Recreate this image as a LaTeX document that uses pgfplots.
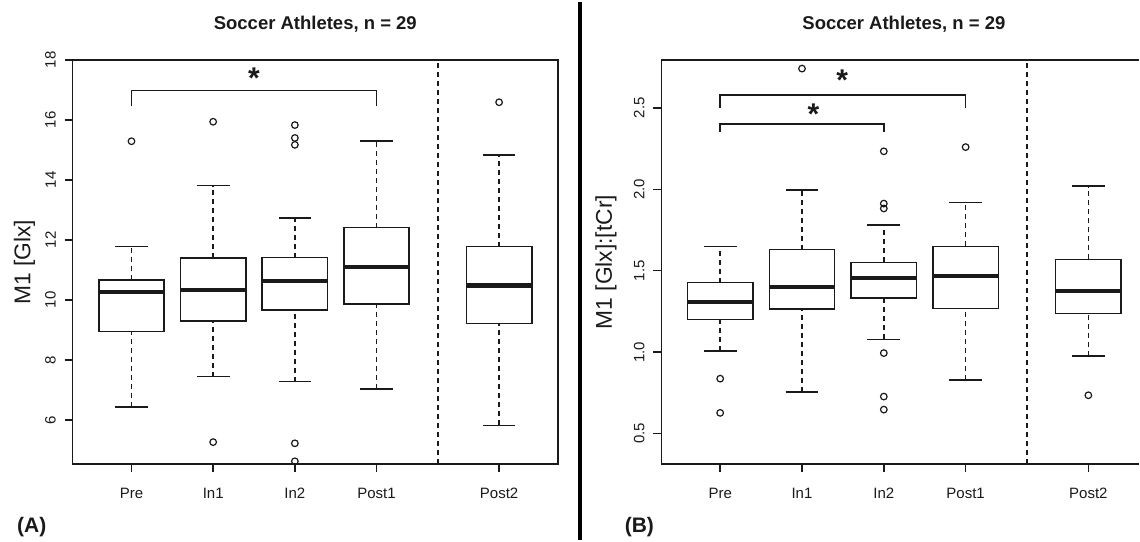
\documentclass[border=0pt]{standalone}
\usepackage{fontspec}
\setmainfont{Liberation Sans}
\usepackage{pgfplots}
\pgfplotsset{compat=1.18}
\usepgfplotslibrary{statistics}
\definecolor{ink}{HTML}{1A1A1A}
\newcommand{\fs}[1]{\fontsize{#1}{#1}\selectfont}

\tikzset{sigstar/.style={font=\bfseries\fs{30}, inner sep=0pt, yshift=-6pt, text=ink}}

\pgfplotsset{
  rpanel/.style={
    scale only axis, height=404.3pt,
    anchor=south west,
    xmin=0.28,
    xtick={1,2,3,4,5.5},
    xticklabels={Pre,In1,In2,Post1,Post2},
    tick align=outside, xtick pos=bottom, ytick pos=left,
    minor tick num=0,
    major tick length=8pt,
    axis line style={line width=1.5pt, ink},
    every tick/.style={line width=1.5pt, ink},
    /pgf/number format/assume math mode=true,
    xticklabel style={font=\fs{15}, inner sep=0pt, anchor=north, color=ink},
    xticklabel shift=15.7pt,
    yticklabel style={font=\fs{15}, rotate=90, anchor=south, inner sep=0pt, color=ink},
    yticklabel shift=8.6pt,
    clip=false,
    boxplot/draw direction=y,
    boxplot/box extend=0.8,
    boxplot/whisker extend=0.4,
    boxplot/every box/.style={line width=1.5pt},
    boxplot/every median/.style={line width=4.2pt},
    boxplot/every whisker/.style={line width=1.5pt},
    boxplot/draw/lower whisker/.code={%
      \draw[line width=1.5pt, dash pattern=on 5pt off 4pt]
        (boxplot box cs:\pgfplotsboxplotvalue{lower whisker},0.5)
        -- (boxplot box cs:\pgfplotsboxplotvalue{lower quartile},0.5);
      \draw[line width=1.5pt, solid]
        (boxplot whisker cs:\pgfplotsboxplotvalue{lower whisker},0)
        -- (boxplot whisker cs:\pgfplotsboxplotvalue{lower whisker},1);
    },
    boxplot/draw/upper whisker/.code={%
      \draw[line width=1.5pt, dash pattern=on 5pt off 4pt]
        (boxplot box cs:\pgfplotsboxplotvalue{upper quartile},0.5)
        -- (boxplot box cs:\pgfplotsboxplotvalue{upper whisker},0.5);
      \draw[line width=1.5pt, solid]
        (boxplot whisker cs:\pgfplotsboxplotvalue{upper whisker},0)
        -- (boxplot whisker cs:\pgfplotsboxplotvalue{upper whisker},1);
    },
  },
  bp/.style={ink, line width=1.5pt, solid, mark=o, mark size=3.3pt, mark options={solid, line width=1.2pt}},
  brk/.style={ink, line width=1.5pt, mark=none},
  sep/.style={ink, line width=1.5pt, mark=none, dash pattern=on 5pt off 4pt},
}

\begin{document}
\begin{tikzpicture}[x=1pt,y=1pt]
\path (0,0) rectangle (1140,538);

% ---------- Panel A ----------
\begin{axis}[rpanel, at={(72.7pt,75.7pt)}, width=485.6pt, xmax=6.22,
  ymin=4.53, ymax=18, ytick={6,8,...,18}]
\addplot[bp, boxplot prepared={draw position=1, lower whisker=6.43, lower quartile=8.94, median=10.26, upper quartile=10.66, upper whisker=11.78}]
  table[row sep=\\, y index=0] {v\\ 15.29\\};
\addplot[bp, boxplot prepared={draw position=2, lower whisker=7.44, lower quartile=9.29, median=10.34, upper quartile=11.39, upper whisker=13.81}]
  table[row sep=\\, y index=0] {v\\ 15.94\\ 5.26\\};
\addplot[bp, boxplot prepared={draw position=3, lower whisker=7.28, lower quartile=9.67, median=10.63, upper quartile=11.41, upper whisker=12.73}]
  table[row sep=\\, y index=0] {v\\ 15.83\\ 15.40\\ 15.17\\ 5.22\\ 4.62\\};
\addplot[bp, boxplot prepared={draw position=4, lower whisker=7.03, lower quartile=9.86, median=11.11, upper quartile=12.41, upper whisker=15.29}]
  coordinates {};
\addplot[bp, boxplot prepared={draw position=5.5, lower whisker=5.82, lower quartile=9.22, median=10.48, upper quartile=11.78, upper whisker=14.83}]
  table[row sep=\\, y index=0] {v\\ 16.59\\};
\addplot[brk] coordinates {(1,16.48) (1,16.99) (4,16.99) (4,16.48)};
\addplot[sep] coordinates {(4.75,4.53) (4.75,18)};
\node[sigstar] at (axis cs:2.5,17.59) {*};
\end{axis}

% ---------- Panel B (its right edge falls outside the image) ----------
\begin{axis}[rpanel, at={(661.7pt,75.7pt)}, width=478.3pt, xmax=6.122,
  axis x line*=box, axis y line*=left,
  ymin=0.313, ymax=2.794,
  ytick={0.5,1.0,1.5,2.0,2.5},
  yticklabel style={/pgf/number format/fixed, /pgf/number format/fixed zerofill, /pgf/number format/precision=1}]
\addplot[bp, boxplot prepared={draw position=1, lower whisker=1.008, lower quartile=1.200, median=1.308, upper quartile=1.427, upper whisker=1.649}]
  table[row sep=\\, y index=0] {v\\ 0.837\\ 0.627\\};
\addplot[bp, boxplot prepared={draw position=2, lower whisker=0.755, lower quartile=1.265, median=1.402, upper quartile=1.629, upper whisker=1.994}]
  table[row sep=\\, y index=0] {v\\ 2.741\\};
\addplot[bp, boxplot prepared={draw position=3, lower whisker=1.078, lower quartile=1.333, median=1.455, upper quartile=1.551, upper whisker=1.780}]
  table[row sep=\\, y index=0] {v\\ 2.233\\ 1.912\\ 1.882\\ 0.994\\ 0.727\\ 0.647\\};
\addplot[bp, boxplot prepared={draw position=4, lower whisker=0.829, lower quartile=1.267, median=1.467, upper quartile=1.649, upper whisker=1.918}]
  table[row sep=\\, y index=0] {v\\ 2.259\\};
\addplot[bp, boxplot prepared={draw position=5.5, lower whisker=0.976, lower quartile=1.237, median=1.376, upper quartile=1.569, upper whisker=2.020}]
  table[row sep=\\, y index=0] {v\\ 0.735\\};
\addplot[brk] coordinates {(1,2.50) (1,2.58) (4,2.58) (4,2.50)};
\addplot[brk] coordinates {(1,2.351) (1,2.402) (3,2.402) (3,2.351)};
\addplot[sep] coordinates {(4.75,0.313) (4.75,2.794)};
\node[sigstar] at (axis cs:2.49,2.708) {*};
\node[sigstar] at (axis cs:2.14,2.496) {*};
\end{axis}

% ---------- divider and texts ----------
\draw[line width=4pt, black] (580,0) -- (580,538);
\node[anchor=base, inner sep=0pt, font=\bfseries\fs{18.5}, text=ink] at (315.5,510.3) {Soccer Athletes, n = 29};
\node[anchor=base, inner sep=0pt, font=\bfseries\fs{18.5}, text=ink] at (904.5,510.3) {Soccer Athletes, n = 29};
\node[rotate=90, anchor=base, inner sep=0pt, font=\fs{22.8}, text=ink] at (30.5,277.7) {M1 [Glx]};
\node[rotate=90, anchor=base, inner sep=0pt, font=\fs{22.8}, text=ink] at (612.2,277.7) {M1 [Glx]:[tCr]};
\node[anchor=base west, inner sep=0pt, font=\bfseries\fs{21}, text=ink] at (17,6.7) {(A)};
\node[anchor=base west, inner sep=0pt, font=\bfseries\fs{21}, text=ink] at (625,6.7) {(B)};
\end{tikzpicture}
\end{document}
